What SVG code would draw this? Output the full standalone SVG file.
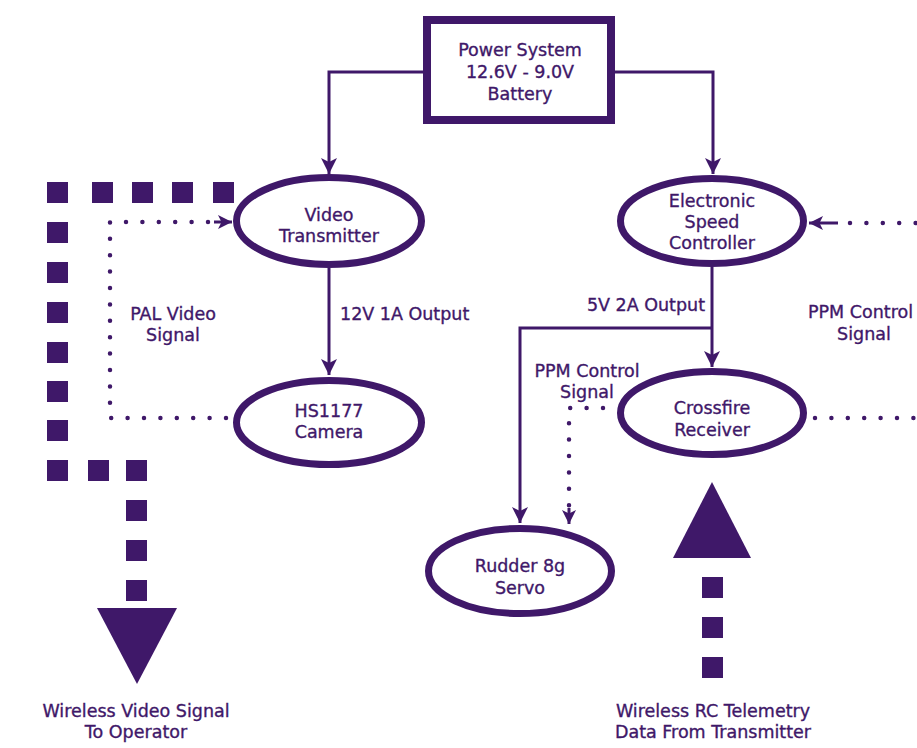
<svg xmlns="http://www.w3.org/2000/svg" width="917" height="748" viewBox="0 0 917 748">
<style>
  .node { fill: #ffffff; stroke: #3f1869; stroke-width: 7; }
  .box { fill: #ffffff; stroke: #3f1869; stroke-width: 8; }
  .wire { fill: none; stroke: #3f1869; stroke-width: 3; }
  .dots { fill: none; stroke: #3f1869; stroke-width: 4.5; stroke-linecap: round; stroke-dasharray: 0 16.4; }
  .sq { fill: #3f1869; }
  .tri { fill: #3f1869; }
  text { font-family: "DejaVu Sans", "Liberation Sans", sans-serif; font-size: 17.5px; fill: #3f1869; stroke: #3f1869; stroke-width: 0.35; text-anchor: middle; }
  .lft { text-anchor: start; }
  .rgt { text-anchor: end; }
</style>
<defs>
  <marker id="ah" markerUnits="userSpaceOnUse" viewBox="0 0 16 16" refX="16" refY="8" markerWidth="16" markerHeight="16" orient="auto">
    <path d="M0,0 L16,8 L0,16 L4,8 z" fill="#3f1869"/>
  </marker>
  <marker id="ahs" markerUnits="userSpaceOnUse" viewBox="0 0 16 16" refX="16" refY="8" markerWidth="14" markerHeight="14" orient="auto">
    <path d="M0,0 L16,8 L0,16 L4,8 z" fill="#3f1869"/>
  </marker>
</defs>
<rect width="917" height="748" fill="#ffffff"/>

<g id="connectors">
  <path class="wire" d="M427 72 H329 V174" marker-end="url(#ah)"/>
  <path class="wire" d="M611 72 H713 V174" marker-end="url(#ah)"/>
  <path class="wire" d="M329 268 V375" marker-end="url(#ah)"/>
  <path class="wire" d="M712 267 V367" marker-end="url(#ah)"/>
  <path class="wire" d="M712 328 H520 V523" marker-end="url(#ah)"/>
  <path class="dots" d="M226 418 H110 V222 H214"/>
  <path class="wire" d="M214 222 H232" marker-end="url(#ahs)"/>
  <path class="dots" d="M603 408 H569 V508"/>
  <path class="wire" d="M569 508 V524" marker-end="url(#ahs)"/>
  <path class="dots" d="M815 418 H940 V223 H848"/>
  <path class="wire" d="M838 223 H809" marker-end="url(#ahs)"/>
  <g id="wireless-video">
    <rect class="sq" x="213" y="182" width="21" height="21"/>
    <rect class="sq" x="172" y="182" width="21" height="21"/>
    <rect class="sq" x="132" y="182" width="21" height="21"/>
    <rect class="sq" x="92" y="182" width="21" height="21"/>
    <rect class="sq" x="47" y="182" width="21" height="21"/>
    <rect class="sq" x="47" y="222" width="21" height="21"/>
    <rect class="sq" x="47" y="262" width="21" height="21"/>
    <rect class="sq" x="47" y="302" width="21" height="21"/>
    <rect class="sq" x="47" y="342" width="21" height="21"/>
    <rect class="sq" x="47" y="381" width="21" height="21"/>
    <rect class="sq" x="47" y="420" width="21" height="21"/>
    <rect class="sq" x="47" y="460" width="21" height="21"/>
    <rect class="sq" x="88" y="460" width="21" height="21"/>
    <rect class="sq" x="126" y="460" width="21" height="21"/>
    <rect class="sq" x="126" y="500" width="21" height="21"/>
    <rect class="sq" x="126" y="540" width="21" height="21"/>
    <rect class="sq" x="126" y="580" width="21" height="21"/>
    <polygon class="tri" points="97,608 177,608 137,684"/>
  </g>
  <g id="wireless-rc">
    <rect class="sq" x="702" y="577" width="21" height="21"/>
    <rect class="sq" x="702" y="617" width="21" height="21"/>
    <rect class="sq" x="702" y="657" width="21" height="21"/>
    <polygon class="tri" points="712,482 751,558 673,558"/>
  </g>
</g>

<g id="power">
  <rect class="box" x="427" y="20" width="184" height="100"/>
  <text x="520" y="56">Power System</text>
  <text x="520" y="78">12.6V - 9.0V</text>
  <text x="520" y="100">Battery</text>
</g>
<g id="video-transmitter">
  <ellipse class="node" cx="329" cy="221" rx="92.5" ry="43.5"/>
  <text x="329" y="221">Video</text>
  <text x="329" y="242">Transmitter</text>
</g>
<g id="camera">
  <ellipse class="node" cx="329" cy="422.5" rx="92.5" ry="42"/>
  <text x="329" y="417">HS1177</text>
  <text x="329" y="438">Camera</text>
</g>
<g id="esc">
  <ellipse class="node" cx="712" cy="221" rx="91.5" ry="42.5"/>
  <text x="712" y="207">Electronic</text>
  <text x="712" y="228">Speed</text>
  <text x="712" y="249">Controller</text>
</g>
<g id="crossfire">
  <ellipse class="node" cx="712" cy="413" rx="91.5" ry="41.5"/>
  <text x="712" y="414">Crossfire</text>
  <text x="712" y="436">Receiver</text>
</g>
<g id="rudder">
  <ellipse class="node" cx="520" cy="571" rx="91.5" ry="42.5"/>
  <text x="520" y="572">Rudder 8g</text>
  <text x="520" y="594">Servo</text>
</g>

<g id="labels">
  <text x="173" y="320">PAL Video</text>
  <text x="173" y="341">Signal</text>
  <text class="lft" x="340" y="320">12V 1A Output</text>
  <text class="rgt" x="705" y="311">5V 2A Output</text>
  <text x="587" y="377">PPM Control</text>
  <text x="587" y="398">Signal</text>
  <text class="lft" x="808" y="318">PPM Control</text>
  <text x="864" y="340">Signal</text>
  <text x="136" y="717">Wireless Video Signal</text>
  <text x="136" y="738">To Operator</text>
  <text x="713" y="717">Wireless RC Telemetry</text>
  <text x="713" y="738">Data From Transmitter</text>
</g>
</svg>
